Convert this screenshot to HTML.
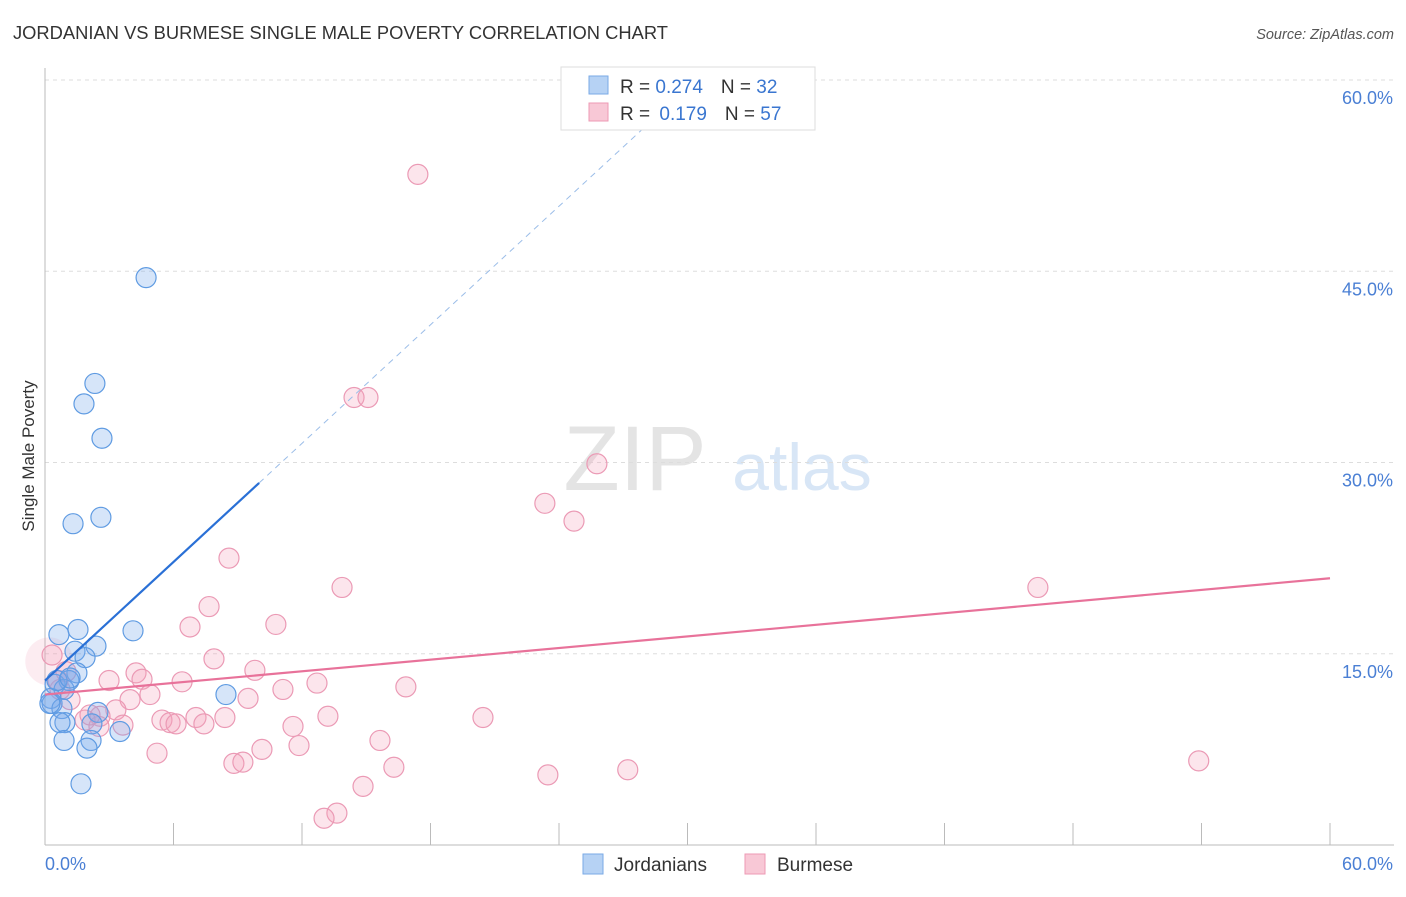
<!DOCTYPE html>
<html><head><meta charset="utf-8"><style>
body{margin:0;background:#fff;font-family:"Liberation Sans",sans-serif;}
svg text{font-family:"Liberation Sans",sans-serif;}
</style></head><body>
<svg id="chart" width="1406" height="892" xmlns="http://www.w3.org/2000/svg">
<text x="13" y="39" font-size="18" fill="#333" textLength="655" lengthAdjust="spacingAndGlyphs">JORDANIAN VS BURMESE SINGLE MALE POVERTY CORRELATION CHART</text>
<text x="1394" y="39" font-size="14.5" fill="#555" font-style="italic" text-anchor="end">Source: ZipAtlas.com</text>
<g>
<text x="635" y="490" font-size="92" fill="#e4e4e4" text-anchor="middle" font-family="Liberation Serif, serif">ZIP</text>
<text x="802" y="490" font-size="66" fill="#d8e6f6" text-anchor="middle">atlas</text>
</g>
<g id="grid"></g>
<g id="axes"></g>
<g id="marks"></g>
<text transform="translate(34,456) rotate(-90)" font-size="17" fill="#333" text-anchor="middle">Single Male Poverty</text>
<g>
<rect x="561" y="67" width="254" height="63" fill="#fff" stroke="#ddd"/>
<rect x="589" y="76" width="19" height="18" fill="#b6d2f4" stroke="#7aaae6"/>
<text x="620" y="93" font-size="19" fill="#333">R = <tspan fill="#3a76d0">0.274</tspan><tspan dx="18">N = </tspan><tspan fill="#3a76d0">32</tspan></text>
<rect x="589" y="103" width="19" height="18" fill="#f8c8d6" stroke="#ee9ab4"/>
<text x="620" y="120" font-size="19" fill="#333">R = <tspan fill="#3a76d0" dx="4">0.179</tspan><tspan dx="18">N = </tspan><tspan fill="#3a76d0">57</tspan></text>
</g>
<g>
<rect x="583" y="854" width="20" height="20" fill="#b6d2f4" stroke="#7aaae6"/>
<text x="614" y="871" font-size="19" fill="#333">Jordanians</text>
<rect x="745" y="854" width="20" height="20" fill="#f8c8d6" stroke="#ee9ab4"/>
<text x="777" y="871" font-size="19" fill="#333">Burmese</text>
</g>
</svg>
<script>
const yTicks=[15,30,45,60];
const yTickLabels=["15.0%","30.0%","45.0%","60.0%"];
const xTicks=[0,6,12,18,24,30,36,42,48,54,60];
const jordX=[4.72,2.33,1.82,2.66,1.31,2.61,0.65,1.54,4.11,2.38,1.40,1.87,1.49,1.12,0.47,0.89,0.28,0.33,0.79,0.23,8.45,2.47,0.93,0.70,2.19,3.50,0.89,2.15,1.96,1.68,0.56,1.17];
const jordY=[44.5,36.2,34.6,31.9,25.2,25.7,16.5,16.9,16.8,15.6,15.2,14.7,13.5,12.9,12.6,12.2,11.5,11.1,10.7,11.1,11.8,10.4,9.6,9.6,9.5,8.9,8.2,8.2,7.6,4.8,12.9,13.1];
const burX=[17.41,14.43,15.08,25.77,23.34,24.70,8.59,13.87,46.36,7.66,6.77,10.78,7.89,4.25,9.80,4.53,6.40,12.70,16.85,2.99,11.11,4.90,9.48,0.70,1.17,3.97,3.31,2.57,7.05,8.40,13.21,20.45,5.46,5.84,6.12,7.42,1.87,3.64,11.58,2.52,5.23,10.13,11.86,15.64,8.82,9.24,16.29,23.48,27.21,53.87,14.85,13.63,13.03,0.33,0.61,0.98,2.10];
const burY=[52.6,35.1,35.1,29.9,26.8,25.4,22.5,20.2,20.2,18.7,17.1,17.3,14.6,13.5,13.7,13.0,12.8,12.7,12.4,12.9,12.2,11.8,11.5,12.2,11.4,11.4,10.6,10.1,10.0,10.0,10.1,10.0,9.8,9.6,9.5,9.5,9.8,9.4,9.3,9.3,7.2,7.5,7.8,8.2,6.4,6.5,6.1,5.5,5.9,6.6,4.6,2.5,2.1,14.9,12.9,13.6,10.2];
const jordTrend=[12.9,1.55]; // intercept, slope
const burTrend=[11.8,0.152];
const X=v=>45+v*1285/60, Y=v=>845-v*765/60;
const NS="http://www.w3.org/2000/svg";
function mk(parent,tag,attrs){const e=document.createElementNS(NS,tag);for(const k in attrs)e.setAttribute(k,attrs[k]);document.getElementById(parent).appendChild(e);return e;}
yTicks.forEach((t,i)=>{
 const g=mk('grid','line',{x1:45,x2:1394,y1:Y(t),y2:Y(t),stroke:'#ddd','stroke-dasharray':'4,4'});
 
 
 const l=mk('axes','text',{x:1393,y:Y(t)+24,'font-size':18,fill:'#4a7fd4','text-anchor':'end'});
 l.textContent=yTickLabels[i];
 
 
});
let a=mk('axes','line',{x1:45,x2:45,y1:68,y2:845,stroke:'#bbb'});


a=mk('axes','line',{x1:45,x2:1394,y1:845,y2:845,stroke:'#bbb'});


xTicks.forEach(t=>{
 const e=mk('axes','line',{x1:X(t),x2:X(t),y1:823,y2:845,stroke:'#bbb'});
 
 
});
let t0=mk('axes','text',{x:45,y:870,'font-size':18,fill:'#4a7fd4'});t0.textContent='0.0%';


let t1=mk('axes','text',{x:1393,y:870,'font-size':18,fill:'#4a7fd4','text-anchor':'end'});t1.textContent='60.0%';


let big=mk('marks','circle',{cx:X(0.2),cy:Y(14.4),r:24,fill:'rgba(240,150,180,0.18)'});


burX.forEach((x,i)=>{
 const c=mk('marks','circle',{cx:X(x),cy:Y(burY[i]),r:10,fill:'rgba(243,160,188,0.28)',stroke:'#eb9ab5','stroke-width':1.2});
 
 
});
jordX.forEach((x,i)=>{
 const c=mk('marks','circle',{cx:X(x),cy:Y(jordY[i]),r:10,fill:'rgba(120,170,235,0.3)',stroke:'#5f9be2','stroke-width':1.2});
 
 
});
let l1=mk('marks','line',{x1:X(0),y1:Y(jordTrend[0]),x2:X(10),y2:Y(jordTrend[0]+jordTrend[1]*10),stroke:'#2a70d6','stroke-width':2.2});


let l2=mk('marks','line',{x1:X(10),y1:Y(jordTrend[0]+jordTrend[1]*10),x2:X(28.5),y2:Y(jordTrend[0]+jordTrend[1]*28.5),stroke:'#9bbde8','stroke-width':1,'stroke-dasharray':'6,5'});


let l3=mk('marks','line',{x1:X(0),y1:Y(burTrend[0]),x2:X(60),y2:Y(burTrend[0]+burTrend[1]*60),stroke:'#e8729a','stroke-width':2.2});


</script>
</body></html>
